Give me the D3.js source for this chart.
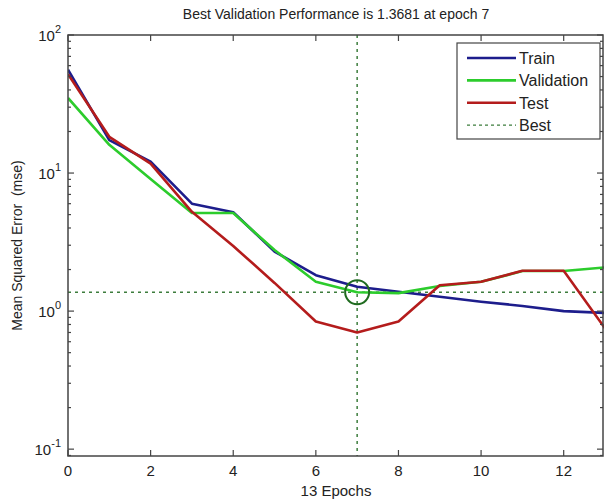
<!DOCTYPE html>
<html>
<head>
<meta charset="utf-8">
<script src="https://cdn.jsdelivr.net/npm/d3@7"></script>
<style>
  body { margin: 0; background: #fff; }
  text { font-family: "Liberation Sans", Arial, sans-serif; fill: #222; }
</style>
</head>
<body>
<div id="chart"></div>
<script>
const epochs = [0, 1, 2, 3, 4, 5, 6, 7, 8, 9, 10, 11, 12, 13];
const train = [56, 17.3, 12.1, 6.0, 5.2, 2.7, 1.82, 1.5, 1.38, 1.27, 1.17, 1.09, 1.0, 0.97];
const validation = [35, 16.0, 9.05, 5.13, 5.13, 2.77, 1.63, 1.3681, 1.35, 1.52, 1.63, 1.95, 1.95, 2.07];
const test = [52, 18.3, 11.7, 5.24, 2.96, 1.6, 0.84, 0.70, 0.84, 1.54, 1.63, 1.96, 1.96, 0.75];
const bestEpoch = 7;
const bestValue = 1.3681;
const xTicks = [0, 2, 4, 6, 8, 10, 12];
const yTicks = [0.1, 1, 10, 100];

const width = 604, height = 503;
const margin = { left: 68, right: 1, top: 35, bottom: 47 };

const svg = d3.select("#chart").append("svg")
  .attr("width", width)
  .attr("height", height);

const x = d3.scaleLinear().domain([0, 13]).range([margin.left, 605]);
const y = d3.scaleLog().domain([0.0892, 100]).range([height - margin.bottom, margin.top]);

const x0 = margin.left, x1 = 603, yTop = margin.top, yBot = height - margin.bottom;

// title
svg.append("text")
  .attr("x", 336).attr("y", 19)
  .attr("text-anchor", "middle")
  .attr("font-size", 14)
  .text(`Best Validation Performance is ${bestValue} at epoch ${bestEpoch}`);

// plot clip
svg.append("clipPath").attr("id", "clip")
  .append("rect").attr("x", x0).attr("y", yTop).attr("width", x1 - x0 + 3).attr("height", yBot - yTop);

const plot = svg.append("g").attr("clip-path", "url(#clip)");

// best lines
plot.append("line")
  .attr("x1", x0).attr("x2", x1)
  .attr("y1", y(bestValue)).attr("y2", y(bestValue))
  .attr("stroke", "#3d7d3d").attr("stroke-width", 1.5)
  .attr("stroke-dasharray", "3,4");
plot.append("line")
  .attr("x1", x(bestEpoch)).attr("x2", x(bestEpoch))
  .attr("y1", yTop).attr("y2", yBot)
  .attr("stroke", "#3d7d3d").attr("stroke-width", 1.5)
  .attr("stroke-dasharray", "3,4");

const line = d3.line().x((d, i) => x(epochs[i])).y(d => y(d));

const series = [
  { name: "Train", values: train, color: "#1d1d8c" },
  { name: "Validation", values: validation, color: "#2ccc2c" },
  { name: "Test", values: test, color: "#b41c1c" }
];

plot.selectAll(".series")
  .data(series)
  .enter()
  .append("path")
  .attr("class", "series")
  .attr("fill", "none")
  .attr("stroke", d => d.color)
  .attr("stroke-width", 2.6)
  .attr("stroke-linejoin", "round")
  .attr("d", d => line(d.values));

// best circle
plot.append("circle")
  .attr("cx", x(bestEpoch)).attr("cy", y(bestValue))
  .attr("r", 12)
  .attr("fill", "none")
  .attr("stroke", "#1f6b1f")
  .attr("stroke-width", 2);

// axes frame
const axisColor = "#444";
svg.append("rect")
  .attr("x", x0).attr("y", yTop)
  .attr("width", x1 - x0).attr("height", yBot - yTop)
  .attr("fill", "none").attr("stroke", axisColor).attr("stroke-width", 1.5);

// x ticks (inward, bottom and top)
const xt = svg.append("g");
xTicks.forEach(t => {
  xt.append("line").attr("x1", x(t)).attr("x2", x(t)).attr("y1", yBot).attr("y2", yBot - 6)
    .attr("stroke", axisColor).attr("stroke-width", 1.2);
  xt.append("line").attr("x1", x(t)).attr("x2", x(t)).attr("y1", yTop).attr("y2", yTop + 6)
    .attr("stroke", axisColor).attr("stroke-width", 1.2);
  xt.append("text").attr("x", x(t)).attr("y", yBot + 20)
    .attr("text-anchor", "middle").attr("font-size", 15).text(t);
});

// y ticks: major + minor log ticks, inward, left and right
const yt = svg.append("g");
const minor = [];
for (let e = -2; e < 2; e++) {
  for (let m = 2; m <= 9; m++) {
    const v = m * Math.pow(10, e);
    if (v > y.domain()[0] && v < 100) minor.push(v);
  }
}
minor.forEach(v => {
  yt.append("line").attr("x1", x0).attr("x2", x0 + 3).attr("y1", y(v)).attr("y2", y(v))
    .attr("stroke", axisColor).attr("stroke-width", 1.2);
  yt.append("line").attr("x1", x1).attr("x2", x1 - 3).attr("y1", y(v)).attr("y2", y(v))
    .attr("stroke", axisColor).attr("stroke-width", 1.2);
});
yTicks.forEach(v => {
  yt.append("line").attr("x1", x0).attr("x2", x0 + 6).attr("y1", y(v)).attr("y2", y(v))
    .attr("stroke", axisColor).attr("stroke-width", 1.2);
  yt.append("line").attr("x1", x1).attr("x2", x1 - 6).attr("y1", y(v)).attr("y2", y(v))
    .attr("stroke", axisColor).attr("stroke-width", 1.2);
  const lbl = yt.append("text").attr("x", x0 - 7).attr("y", y(v) + 6)
    .attr("text-anchor", "end").attr("font-size", 15);
  lbl.append("tspan").text("10");
  lbl.append("tspan").attr("dy", -8).attr("font-size", 11).text(Math.round(Math.log10(v)));
});

// axis labels
svg.append("text")
  .attr("x", 336).attr("y", 496)
  .attr("text-anchor", "middle").attr("font-size", 15)
  .text(`${epochs.length - 1} Epochs`);
svg.append("text")
  .attr("transform", `translate(22, ${(yTop + yBot) / 2}) rotate(-90)`)
  .attr("text-anchor", "middle").attr("font-size", 14)
  .attr("xml:space", "preserve")
  .text("Mean Squared Error  (mse)");

// legend
const lg = svg.append("g").attr("transform", "translate(457, 43)");
lg.append("rect").attr("width", 143).attr("height", 96)
  .attr("fill", "#fff").attr("stroke", axisColor).attr("stroke-width", 1.2);
const legendItems = series.map(s => ({ name: s.name, color: s.color, dash: null }))
  .concat([{ name: "Best", color: "#3d7d3d", dash: "3,3" }]);
legendItems.forEach((d, i) => {
  const yy = 15 + i * 22.4;
  lg.append("line").attr("x1", 10).attr("x2", 59).attr("y1", yy).attr("y2", yy)
    .attr("stroke", d.color).attr("stroke-width", d.dash ? 1.2 : 2.6)
    .attr("stroke-dasharray", d.dash);
  lg.append("text").attr("x", 62).attr("y", yy + 6)
    .attr("font-size", 16).text(d.name);
});
</script>
</body>
</html>
